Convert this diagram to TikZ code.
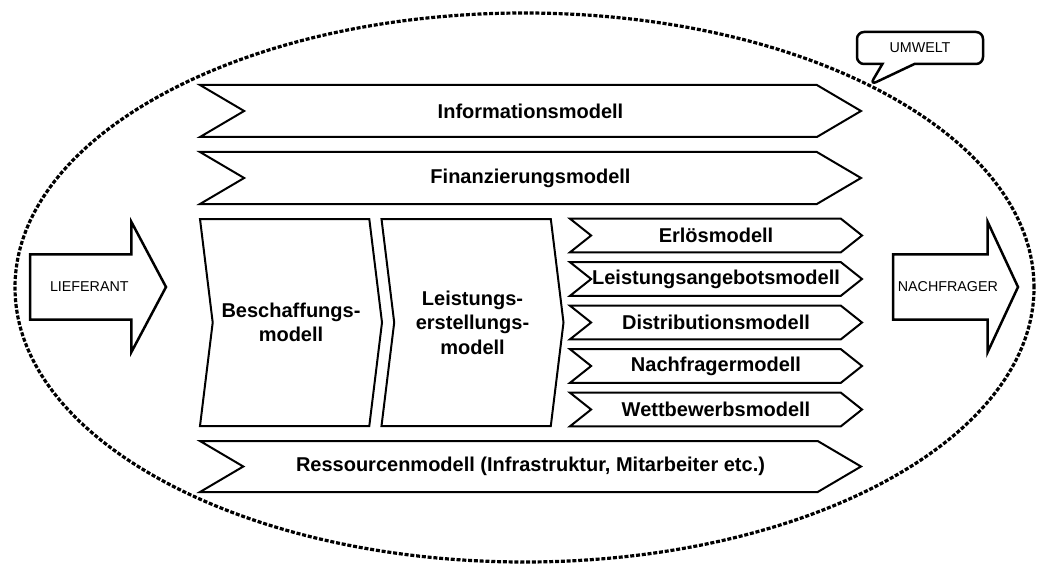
\documentclass[tikz,border=0pt]{standalone}
\usepackage{fontspec}
\setmainfont{Liberation Sans}
\usetikzlibrary{shapes.symbols, shapes.arrows, shapes.callouts, positioning}

\begin{document}
\begin{tikzpicture}[x=1pt, y=-1pt,
    model/.style={signal, signal from=west, signal to=east, draw, line width=2pt,
        inner sep=0pt, outer sep=0pt, align=center,
        font=\fontsize{20}{24.5}\selectfont\bfseries},
    wide/.style={model, minimum width=661pt, minimum height=52pt, signal pointer angle=61},
    tall/.style={model, minimum width=182pt, minimum height=207pt, signal pointer angle=166},
    small/.style={model, minimum width=292pt, minimum height=33.6pt, signal pointer angle=77},
    party/.style={single arrow, draw, line width=2.5pt, outer sep=0pt,
        inner xsep=0pt, inner ysep=26pt,
        minimum width=130pt, single arrow head extend=32pt,
        anchor=tail, font=\fontsize{14.3}{17}\selectfont},
    note/.style={rectangle callout, draw, line width=2.5pt, rounded corners=7pt,
        minimum width=126pt, minimum height=32pt, inner sep=0pt, callout pointer width=32pt,
        font=\fontsize{14.3}{17}\selectfont}]
    \useasboundingbox (0,0) rectangle (1043,564);

    % umwelt
    \draw[line width=3.2pt, dash pattern=on 4pt off 1.8pt] (524.5,287.5) ellipse [x radius=509.5pt, y radius=274.5pt];
    \coordinate (rim) at (870,85);
    \node[note, callout absolute pointer={(rim)}] (env) at (920,48) {UMWELT};

    % markt
    \node[party, minimum height=136pt, single arrow tip angle=124] (supplier) at (30,287) {LIEFERANT};
    \node[party, minimum height=125pt, single arrow tip angle=130, inner xsep=-2.5pt] (customer) at (893,287) {NACHFRAGER};

    \node[wide] (info) at (530.5,111) {Informationsmodell};
    \node[wide] (fin) at (530.5,178) {Finanzierungsmodell};

    \node[tall] (besch) at (291,322.5) {Beschaffungs-\\modell};
    \node[tall] (leist) at (472.5,322.5) {Leistungs-\\erstellungs-\\modell};

    \node[small] (erloes) at (716,235.5) {Erlösmodell};
    \node[small] (angebot) at (716,279) {Leistungsangebotsmodell};
    \node[small] (distrib) at (716,322.5) {Distributionsmodell};
    \node[small] (nachfr) at (716,366) {Nachfragermodell};
    \node[small] (wettb) at (716,409.5) {Wettbewerbsmodell};

    \node[wide, minimum height=51pt] (ress) at (530.5,466.5) {Ressourcenmodell (Infrastruktur, Mitarbeiter etc.)};
\end{tikzpicture}
\end{document}
